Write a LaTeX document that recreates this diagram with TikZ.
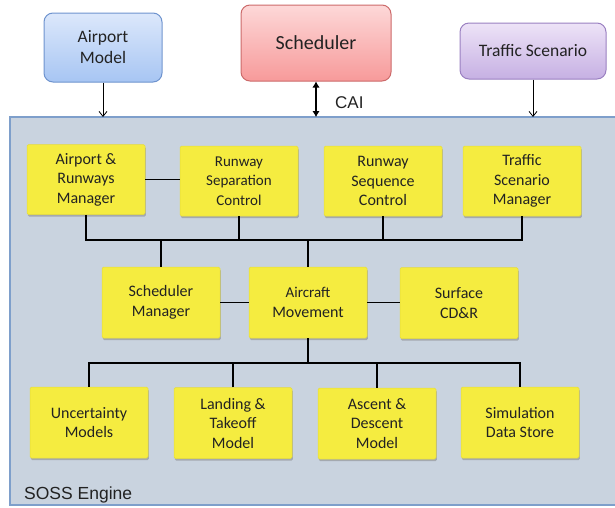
\documentclass[tikz,border=0pt]{standalone}
\usepackage{fontspec}
\setmainfont{Carlito}
\newfontfamily\arialfont{Liberation Sans}
\usetikzlibrary{shadows,arrows.meta}
\definecolor{engfill}{HTML}{C9D3DF}
\definecolor{engdraw}{HTML}{7E9FCB}
\definecolor{yel}{HTML}{F5EC40}
\definecolor{yeldraw}{HTML}{E6DC3A}
\definecolor{bluetop}{HTML}{DCE8FB}
\definecolor{bluebot}{HTML}{A7C5F3}
\definecolor{bluedraw}{HTML}{6E93CE}
\definecolor{redtop}{HTML}{FDD8D8}
\definecolor{redbot}{HTML}{F79A9A}
\definecolor{reddraw}{HTML}{CC6A6A}
\definecolor{purtop}{HTML}{EDE3F7}
\definecolor{purbot}{HTML}{C6B0E3}
\definecolor{purdraw}{HTML}{9A80C1}
\definecolor{txt}{HTML}{222222}
\begin{document}
\begin{tikzpicture}[x=1pt,y=-1pt,
  ybox/.style={draw=yeldraw,line width=0.5pt,fill=yel,rounded corners=1.5pt,minimum width=118pt,minimum height=70pt,
    align=center,inner sep=2pt,text=txt,font=\fontsize{16}{19.5}\selectfont,
    drop shadow={shadow xshift=0.8pt,shadow yshift=-2.2pt,fill=black!50,opacity=.5}},
  topbox/.style={rounded corners=9pt,line width=1pt,align=center,text=txt},
  conn/.style={line width=1.4pt,black},
  arr/.style={line width=0.8pt,-{Straight Barb[length=5pt,width=8pt]}}
]
\useasboundingbox (0,0) rectangle (615,507);
% engine
\path[fill=engfill,draw=engdraw,line width=1.2pt] (10,117) rectangle (630,505);
\node[anchor=base west,text=txt,font=\arialfont\fontsize{17.5}{20}\selectfont,inner sep=0pt] (soss) at (24,499) {SOSS Engine};

% top boxes
\node[topbox,draw=bluedraw,top color=bluetop,bottom color=bluebot,minimum width=118pt,minimum height=69pt,font=\fontsize{17.5}{21}\selectfont] (apm) at (103,47.5) {Airport\\Model};
\node[topbox,draw=reddraw,top color=redtop,bottom color=redbot,minimum width=150pt,minimum height=76pt,font=\fontsize{20}{24}\selectfont] (sch) at (316,43) {Scheduler};
\node[topbox,draw=purdraw,top color=purtop,bottom color=purbot,minimum width=146pt,minimum height=56pt,font=\fontsize{17.5}{21}\selectfont] (trs) at (533,51) {Traffic Scenario};

\coordinate (etop) at (0,117);
\draw[arr] (apm.south) -- (apm.south |- etop);
\draw[arr] (trs.south) -- (trs.south |- etop);
\draw[line width=1.6pt,{Latex[length=6pt,width=7.5pt]}-{Latex[length=6pt,width=7.5pt]}] (sch.south) -- (sch.south |- etop);
\node[anchor=base west,text=txt,font=\arialfont\fontsize{17}{20}\selectfont,inner sep=0pt] (cai) at (335,108) {CAI};

% row 1
\node[ybox] (arm) at (86,179.5) {Airport \&\\Runways\\Manager};
\node[ybox,font=\fontsize{15}{19.5}\selectfont] (rsep) at (239,181) {Runway\\Separation\\Control};
\node[ybox] (rseq) at (383,181) {Runway\\Sequence\\Control};
\node[ybox] (tsm) at (522,181) {Traffic\\Scenario\\Manager};

% row 2
\node[ybox,minimum height=71pt] (smg) at (161,302.5) {Scheduler\\Manager};
\node[ybox,minimum height=71pt] (acm) at (308,302.5) {{\fontsize{15}{19.5}\selectfont Aircraft}\\Movement};
\node[ybox,minimum height=71pt] (scdr) at (459,303) {Surface\\CD\&R};

% row 3
\node[ybox,minimum height=71pt] (unc) at (89,422.5) {Uncertainty\\Models};
\node[ybox,minimum height=71pt] (lto) at (233,423) {Landing \&\\Takeoff\\Model};
\node[ybox,minimum height=71pt] (adm) at (377,423.5) {Ascent \&\\Descent\\Model};
\node[ybox,minimum height=71pt] (sds) at (520,422.5) {Simulation\\Data Store};

% connectors
\coordinate (b1) at (0,240);
\coordinate (b2) at (0,363);
\draw[conn] (arm.east) -- (arm.east -| rsep.west);
\draw[conn] (arm.south) -- (arm.south |- b1) -- (tsm.south |- b1) -- (tsm.south);
\draw[conn] (rsep.south) -- (rsep.south |- b1);
\draw[conn] (rseq.south) -- (rseq.south |- b1);
\draw[conn] (smg.north) -- (smg.north |- b1);
\draw[conn] (acm.north) -- (acm.north |- b1);
\draw[conn] (smg.east |- acm.east) -- (acm.west);
\draw[conn] (acm.east) -- (acm.east -| scdr.west);
\draw[conn] (acm.south) -- (acm.south |- b2);
\draw[conn] (unc.north) -- (unc.north |- b2) -- (sds.north |- b2) -- (sds.north);
\draw[conn] (lto.north) -- (lto.north |- b2);
\draw[conn] (adm.north) -- (adm.north |- b2);
\end{tikzpicture}
\end{document}
